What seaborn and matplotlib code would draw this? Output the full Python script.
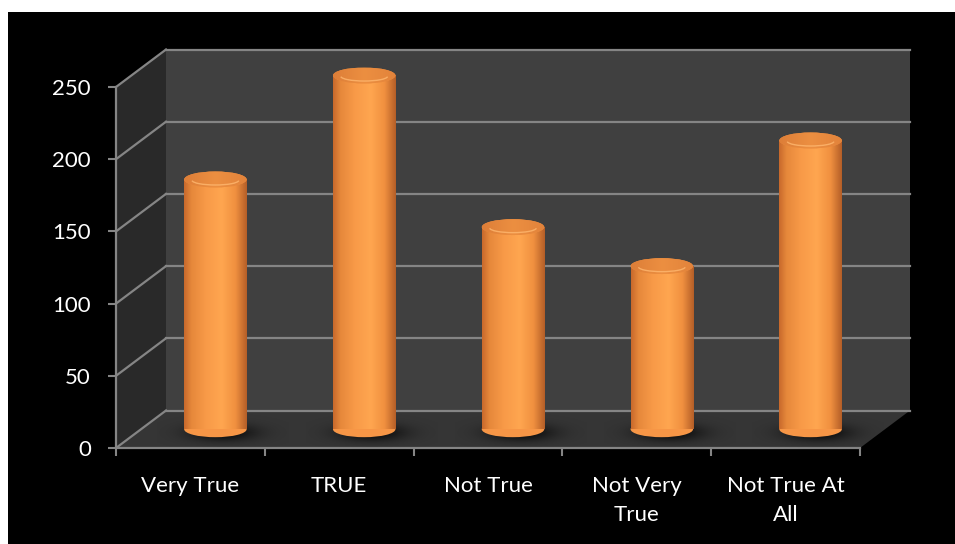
import numpy as np
import matplotlib
matplotlib.use("Agg")
import matplotlib.pyplot as plt
import seaborn as sns
import pandas as pd
from matplotlib.patches import Rectangle, Ellipse, Polygon, Arc
from matplotlib.transforms import IdentityTransform
from matplotlib.colors import LinearSegmentedColormap

# ---- data ----
categories = ["Very True", "TRUE", "Not True", "Not Very\nTrue", "Not True At\nAll"]
values = [173, 245, 140, 113, 200]
y_ticks = [0, 50, 100, 150, 200, 250]

plt.rcParams['font.family'] = ['Lato', 'DejaVu Sans']

W, H = 955, 544
fig = plt.figure(figsize=(W / 100, H / 100), dpi=100, facecolor='white')
fig.patches.append(Rectangle((8 / W, 0), (W - 8) / W, (H - 12) / H, transform=fig.transFigure,
                             facecolor='black', edgecolor='none', zorder=-10))


def fbox(x0, y_top, x1, y_bot):
    return [x0 / W, 1 - y_bot / H, (x1 - x0) / W, (y_bot - y_top) / H]


# depth offsets in pixels (display coords: +x right, +y up)
DX, DY = 50, 37.5

ax_f = fig.add_axes(fbox(116, 87, 860, 448))
ax_f.set_zorder(1)
ax_f.patch.set_visible(False)
ax_f.set_xlim(-0.5, len(categories) - 0.5)
ax_f.set_ylim(0, 250)

ax = fig.add_axes(fbox(116 + DX / 2, 87 - DY / 2, 860 + DX / 2, 448 - DY / 2))
ax.set_zorder(2)
ax.patch.set_visible(False)

grid_c = '#858585'
xmin, xmax = -0.5, len(categories) - 0.5


def P(x, y, depth):
    px, py = ax_f.transData.transform((x, y))
    return (px + DX * depth, py + DY * depth)


def poly(pts, fc, z):
    ax_f.add_patch(Polygon(pts, closed=True, facecolor=fc, edgecolor='none',
                           transform=IdentityTransform(), clip_on=False, zorder=z))


def line(p, q, z=3, c=grid_c, lw=1.6):
    ax_f.add_line(plt.Line2D([p[0], q[0]], [p[1], q[1]], color=c, lw=lw,
                             transform=IdentityTransform(), clip_on=False, zorder=z))


# back wall, side wall, floor
poly([P(xmin, 0, 1), P(xmax, 0, 1), P(xmax, 250, 1), P(xmin, 250, 1)], '#404040', 0)
poly([P(xmin, 0, 0), P(xmin, 0, 1), P(xmin, 250, 1), P(xmin, 250, 0)], '#292929', 0)
poly([P(xmin, 0, 0), P(xmax, 0, 0), P(xmax, 0, 1), P(xmin, 0, 1)], '#353535', 1)
for v in y_ticks:
    line(P(xmin, v, 1), P(xmax, v, 1))
    line(P(xmin, v, 0), P(xmin, v, 1))

# front axes styling
for s in ['top', 'right']:
    ax_f.spines[s].set_visible(False)
for s in ['left', 'bottom']:
    ax_f.spines[s].set_color(grid_c)
    ax_f.spines[s].set_linewidth(1.6)
ax_f.set_yticks(y_ticks)
ax_f.set_yticklabels([str(v) for v in y_ticks])
ax_f.set_xticks(np.arange(len(categories) + 1) - 0.5)
ax_f.set_xticklabels([])
ax_f.set_xticks(np.arange(len(categories)), minor=True)
ax_f.set_xticklabels(categories, minor=True, linespacing=1.6)
ax_f.tick_params(axis='y', which='major', direction='out', length=6, width=1.5, color=grid_c,
                 labelcolor='white', labelsize=16, pad=12)
ax_f.tick_params(axis='x', which='major', direction='out', length=6, width=1.5, color=grid_c)
ax_f.tick_params(axis='x', which='minor', length=0, labelsize=16, labelcolor='white', pad=20)
for t in ax_f.get_xticklabels(minor=True):
    t.set_verticalalignment('top')

# ---- bars ----
df = pd.DataFrame({"category": categories, "value": values})
sns.barplot(data=df, x="category", y="value", ax=ax, color='#F79646', width=0.42,
            saturation=1, edgecolor='none')
ax.set_xlim(xmin, xmax)
ax.set_ylim(0, 250)
ax.axis('off')

body_cmap = LinearSegmentedColormap.from_list('body', [
    (0.0, '#C8692C'), (0.12, '#E6883B'), (0.35, '#F89A48'), (0.6, '#FFA650'),
    (0.82, '#F0903F'), (1.0, '#B45E28')])
cap_cmap = LinearSegmentedColormap.from_list('cap', [
    (0.0, '#DD7E38'), (0.5, '#EC8F41'), (1.0, '#E2833B')])
grad = np.linspace(0, 1, 256).reshape(1, -1)
EH = 11.0  # ellipse height in data units

# smooth shadow image (black with radial alpha)
sx = np.linspace(-1, 1, 120)
sy = np.linspace(-1, 1, 60)
SX, SY = np.meshgrid(sx, sy)
shadow = np.zeros((60, 120, 4))
shadow[..., 3] = 0.8 * np.exp(-((SX / 0.6) ** 2 + (SY / 0.55) ** 2) * 1.4)

for p in list(ax.patches):
    x0, w, h = p.get_x(), p.get_width(), p.get_height()
    cx = x0 + w / 2
    p.set_zorder(3)
    # shadow
    ax.imshow(shadow, extent=(cx - w * 1.05 + 0.05, cx + w * 1.05 + 0.05, -EH * 1.4, EH * 0.9),
              aspect='auto', zorder=1, clip_on=False, interpolation='bilinear')
    # bottom ellipse
    be = Ellipse((cx, 0), w, EH, facecolor='#F79646', edgecolor='none', zorder=2, clip_on=False)
    ax.add_patch(be)
    im = ax.imshow(grad, extent=(x0, x0 + w, -EH, EH), aspect='auto', cmap=body_cmap,
                   zorder=2.1, clip_on=True)
    im.set_clip_path(be)
    # body
    im = ax.imshow(grad, extent=(x0, x0 + w, 0, h), aspect='auto', cmap=body_cmap, zorder=3.1)
    im.set_clip_path(p)
    # top cap
    te = Ellipse((cx, h), w, EH, facecolor='#EE8E3F', edgecolor='none', zorder=4, clip_on=False)
    ax.add_patch(te)
    im = ax.imshow(grad, extent=(x0, x0 + w, h - EH, h + EH), aspect='auto', cmap=cap_cmap,
                   zorder=4.1)
    im.set_clip_path(te)
    ax.add_patch(Arc((cx, h - EH * 0.05), w * 0.75, EH * 0.6, theta1=240, theta2=300,
                     color='#FFB870', lw=1.0, alpha=0.8, zorder=4.5, clip_on=False))

ax.set_xlim(xmin, xmax)
ax.set_ylim(0, 250)

fig.savefig("out.png", dpi=100, facecolor=fig.get_facecolor())
